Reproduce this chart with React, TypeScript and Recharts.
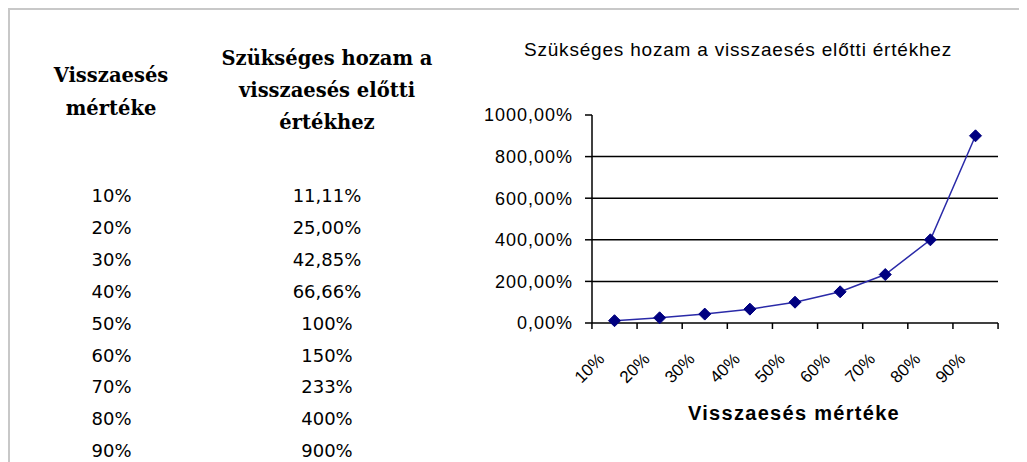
import { LineChart, Line, XAxis, YAxis, CartesianGrid } from "recharts";

const drops = ["10%", "20%", "30%", "40%", "50%", "60%", "70%", "80%", "90%"];
const requiredReturn = [11.11, 25, 42.85, 66.66, 100, 150, 233, 400, 900];
const returnLabels = ["11,11%", "25,00%", "42,85%", "66,66%", "100%", "150%", "233%", "400%", "900%"];
const yTicks = [0, 200, 400, 600, 800, 1000];
const gridValues = [200, 400, 600, 800];

const chartData = drops.map((d, i) => ({ drop: d, value: requiredReturn[i] }));

const arial = "'Liberation Sans', Arial, sans-serif";

function fmtPct(v: number) {
  return v.toFixed(2).replace(".", ",") + "%";
}

function Diamond(props: any) {
  const { cx, cy } = props;
  if (cx == null || cy == null) return null;
  const r = 6;
  return (
    <polygon
      points={`${cx},${cy - r} ${cx + r},${cy} ${cx},${cy + r} ${cx - r},${cy}`}
      fill="#000080"
      stroke="#000080"
    />
  );
}

// category ticks sit between the points, like the old Excel chart
function XTick(props: any) {
  const { x, y, payload, index, visibleTicksCount, width } = props;
  const step = (width || 406) / (visibleTicksCount || 9);
  const left = x - step / 2;
  const ax = x - 9;
  const ay = y + 37;
  return (
    <g>
      <line x1={left} y1={y} x2={left} y2={y + 6} stroke="#000" strokeWidth={1.5} />
      {index === visibleTicksCount - 1 && (
        <line x1={x + step / 2} y1={y} x2={x + step / 2} y2={y + 6} stroke="#000" strokeWidth={1.5} />
      )}
      <text
        x={ax}
        y={ay}
        textAnchor="end"
        transform={`rotate(-45, ${ax}, ${ay})`}
        fontFamily={arial}
        fontSize={17}
        fill="#000"
      >
        {payload.value}
      </text>
    </g>
  );
}

const headerFont = "'DejaVu Serif', serif";
const cellFont = "'DejaVu Sans', sans-serif";

function Cell(props: { cx: number; cy: number; text: string }) {
  return (
    <div
      style={{
        position: "absolute",
        left: props.cx - 100 - 8,
        top: props.cy - 16 - 8,
        width: 200,
        lineHeight: "32px",
        textAlign: "center",
        fontFamily: cellFont,
        fontSize: 18,
        color: "#000",
        whiteSpace: "nowrap",
      }}
    >
      {props.text}
    </div>
  );
}

export default function App() {
  return (
    <div style={{ position: "relative", width: 1019, height: 454, background: "#fff", overflow: "hidden" }}>
      <div style={{ position: "absolute", left: 0, top: 0, width: 1019, height: 2, background: "#c8c8c8" }} />
      <div style={{ position: "absolute", left: 0, top: 0, width: 2, height: 454, background: "#c8c8c8" }} />

      <div
        style={{
          position: "absolute",
          left: 111 - 100 - 8,
          top: 75 - 16 - 8,
          width: 200,
          lineHeight: "33px",
          textAlign: "center",
          fontFamily: headerFont,
          fontWeight: "bold",
          fontSize: 19.5,
          whiteSpace: "nowrap",
        }}
      >
        Visszaesés
        <br />
        mértéke
      </div>
      <div
        style={{
          position: "absolute",
          left: 327 - 130 - 8,
          top: 59 - 16 - 8,
          width: 260,
          lineHeight: "32px",
          textAlign: "center",
          fontFamily: headerFont,
          fontWeight: "bold",
          fontSize: 19.5,
          whiteSpace: "nowrap",
        }}
      >
        Szükséges hozam a
        <br />
        visszaesés előtti
        <br />
        értékhez
      </div>

      {drops.map((d, i) => (
        <Cell key={"a" + d} cx={111.5} cy={196 + i * 31.9} text={d} />
      ))}
      {returnLabels.map((t, i) => (
        <Cell key={"b" + i} cx={327} cy={196 + i * 31.9} text={t} />
      ))}

      <div
        style={{
          position: "absolute",
          left: 738 - 300 - 8,
          top: 50 - 12 - 8,
          width: 600,
          lineHeight: "24px",
          textAlign: "center",
          fontFamily: arial,
          fontSize: 19,
          letterSpacing: 0.8,
          whiteSpace: "nowrap",
        }}
      >
        Szükséges hozam a visszaesés előtti értékhez
      </div>

      <div style={{ position: "absolute", left: 462, top: 12 }}>
        <LineChart width={550} height={420} data={chartData} margin={{ top: 95, right: 22, bottom: 57, left: 22 }}>
          <CartesianGrid horizontal vertical={false} horizontalValues={gridValues} stroke="#000" strokeWidth={1.5} />
          <XAxis
            dataKey="drop"
            height={60}
            interval={0}
            padding={{ left: 22.5, right: 22.5 }}
            tickSize={0}
            tickMargin={0}
            tickLine={false}
            axisLine={{ stroke: "#000", strokeWidth: 1.5 }}
            tick={<XTick />}
          />
          <YAxis
            width={100}
            domain={[0, 1000]}
            ticks={yTicks}
            interval={0}
            tickFormatter={fmtPct}
            tickSize={7}
            tickMargin={12}
            axisLine={{ stroke: "#000", strokeWidth: 1.5 }}
            tickLine={{ stroke: "#000", strokeWidth: 1.5 }}
            tick={{ fill: "#000", fontFamily: arial, fontSize: 18, letterSpacing: 1 }}
          />
          <Line
            type="linear"
            dataKey="value"
            stroke="#2a2aa8"
            strokeWidth={1.5}
            dot={<Diamond />}
            activeDot={false}
            isAnimationActive={false}
          />
        </LineChart>
      </div>

      <div
        style={{
          position: "absolute",
          left: 794 - 200 - 8,
          top: 412.5 - 12 - 8,
          width: 400,
          lineHeight: "24px",
          textAlign: "center",
          fontFamily: arial,
          fontWeight: "bold",
          fontSize: 20,
          letterSpacing: 1.3,
          whiteSpace: "nowrap",
        }}
      >
        Visszaesés mértéke
      </div>
    </div>
  );
}
